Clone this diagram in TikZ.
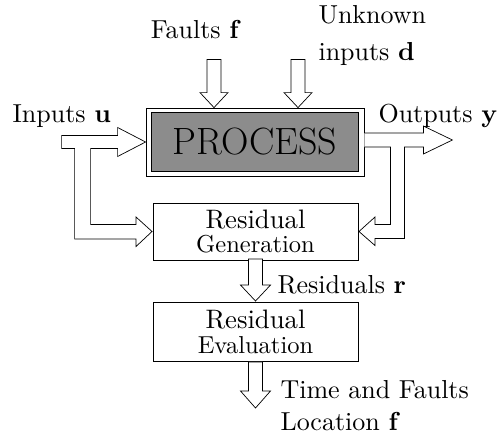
\documentclass[tikz,border=0pt]{standalone}
\usepackage{amsmath}
\usepackage{tikz}
\usetikzlibrary{calc}
\tikzset{
  frame/.style={draw, line width=0.8pt, fill=white, minimum width=218pt, minimum height=68pt, inner sep=0pt},
  core/.style={draw, line width=0.6pt, fill=black!45, minimum width=207pt, minimum height=59pt, inner sep=0pt, font=\fontsize{38}{40}\selectfont},
  box/.style={draw, line width=0.8pt, fill=white, scale=2.45, minimum width={205pt/2.45}, inner sep=0pt, align=center, font=\fontsize{10}{10.2}\selectfont},
  pipe/.style={draw, fill=white, line width=0.7pt, line join=miter},
  lab/.style={scale=2.6, inner sep=0pt, align=left, font=\fontsize{10}{12.3}\selectfont},
}
\begin{document}
\begin{tikzpicture}[x=1pt, y=-1pt]
  \useasboundingbox (0,0) rectangle (500,436);
  % blocks
  \node[frame] (proc) at (255,142) {};
  \node[core] (core) at (proc) {PROCESS};
  \node[box, minimum height={57pt/2.45}] (gen) at (255.5,231.5) {{\fontsize{10.9}{11}\selectfont Residual}\\Generation};
  \node[box, minimum height={59pt/2.45}] (eval) at (255.5,331.5) {{\fontsize{10.9}{11}\selectfont Residual}\\Evaluation};

  % fault and disturbance inputs
  \foreach \dx in {-41,43}
    \draw[pipe] ($(proc.north)+(\dx,0)$) -- ++(-14,-15) -- ++(7,0) -- ++(0,-33)
      -- ++(14,0) -- ++(0,33) -- ++(7,0) -- cycle;

  % inputs, with branch to residual generation
  \draw[pipe] (proc.west) -- ++(-28,-14.5) -- ++(0,8) -- ++(-56,0) -- ++(0,13) -- ++(13,0)
    |- ($(gen.west)+(-16,7.5)$) -- ++(0,7.5) -- (gen.west) -- ++(-16,-14.5) -- ++(0,7.5)
    -| ($(proc.west)+(-55,6.5)$) -- ++(27,0) -- ++(0,8) -- cycle;

  % outputs, with branch to residual generation
  \draw[pipe] ($(proc.east)+(0,-9)$) -- ++(59,0) -- ++(0,-7) -- ++(29,14) -- ++(-29,14)
    -- ++(0,-7) -- ++(-19,0) |- ($(gen.east)+(16,7)$) -- ++(0,7) -- (gen.east)
    -- ++(16,-14.5) -- ++(0,7.5) -| ($(proc.east)+(26,5)$) -- ++(-26,0);

  % residuals and decision
  \draw[pipe] (eval.north) -- ++(-15,-16) -- ++(8,0) -- ++(0,-26) -- ++(14,0)
    -- ++(0,26) -- ++(8,0) -- cycle;
  \coordinate (done) at ($(eval.south)+(0,46)$);
  \draw[pipe] (done) -- ++(-15,-17) -- ++(8,0) -- ++(0,-29) -- ++(14,0)
    -- ++(0,29) -- ++(8,0) -- cycle;

  % labels
  \node[lab, anchor=base] (faults) at (196,39) {Faults $\mathbf{f}$};
  \node[lab, anchor=north west] (unknown) at (318,5) {Unknown\\[1.9pt]inputs $\mathbf{d}$};
  \node[lab, anchor=base west] (inputs) at (12,122) {Inputs $\mathbf{u}$};
  \node[lab, anchor=base west] (outputs) at (378,122) {Outputs $\mathbf{y}$};
  \node[lab, anchor=base west] (resid) at (277,293) {Residuals $\mathbf{r}$};
  \node[lab, anchor=north west] (decision) at (280,380) {Time and Faults\\Location $\mathbf{f}$};
\end{tikzpicture}
\end{document}
